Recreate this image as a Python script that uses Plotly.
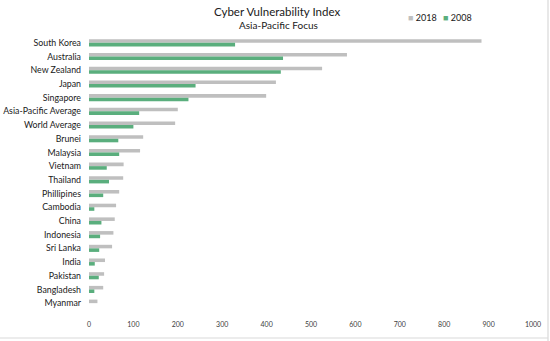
import plotly.graph_objects as go

countries = ["South Korea", "Australia", "New Zealand", "Japan", "Singapore",
             "Asia-Pacific Average", "World Average", "Brunei", "Malaysia", "Vietnam",
             "Thailand", "Phillipines", "Cambodia", "China", "Indonesia", "Sri Lanka",
             "India", "Pakistan", "Bangladesh", "Myanmar"]
v2018 = [884, 581, 525, 421, 399, 200, 194, 122, 115, 78,
         77, 68, 61, 58, 55, 52, 36, 34, 32, 19]
v2008 = [329, 437, 432, 240, 224, 113, 100, 66, 68, 40,
         45, 32, 12, 28, 25, 23, 13, 22, 12, 0]
x_ticks = [0, 100, 200, 300, 400, 500, 600, 700, 800, 900, 1000]
series_names = ["2018", "2008"]
series_colors = ["#BFBFBF", "#5AAE7D"]

font = "Lato, 'Open Sans', sans-serif"
W, H = 550, 341
L, R, T, B = 89, 17, 36, 31

fig = go.Figure()
for name, vals, col in zip(series_names, [v2018, v2008], series_colors):
    fig.add_trace(go.Bar(y=countries, x=vals, name=name, orientation="h",
                         marker=dict(color=col, line=dict(width=0)), showlegend=False))

fig.update_layout(
    width=W, height=H,
    margin=dict(l=L, r=R, t=T, b=B, autoexpand=False),
    paper_bgcolor="white", plot_bgcolor="white",
    barmode="group", bargap=0.48, bargroupgap=0,
    font=dict(family=font, color="#404040"),
    showlegend=False,
)
fig.update_xaxes(range=[0, 1000], tickvals=x_ticks, showgrid=False, zeroline=False,
                 showline=False, tickfont=dict(size=7, color="#404040"), ticks="",
                 ticklabelstandoff=9, automargin=False)
fig.update_yaxes(autorange="reversed", showgrid=False, showline=False, ticks="",
                 tickfont=dict(size=8.8, color="#202020"), ticklabelstandoff=7,
                 automargin=False)

ph = H - T - B
pw = W - L - R
def yp(py):
    return (H - B - py) / ph
def xp(px):
    return (px - L) / pw

fig.add_annotation(text="Cyber Vulnerability Index", xref="paper", yref="paper",
                   x=xp(277), y=yp(11.5), showarrow=False, xanchor="center", yanchor="middle",
                   font=dict(size=11.5, color="#202020"))
fig.add_annotation(text="Asia-Pacific Focus", xref="paper", yref="paper",
                   x=xp(278), y=yp(25), showarrow=False, xanchor="center", yanchor="middle",
                   font=dict(size=10, color="#202020"))
# legend
fig.add_annotation(text=f"<span style='color:{series_colors[0]}'>■</span> {series_names[0]}",
                   xref="paper", yref="paper", x=xp(406), y=yp(17.5), showarrow=False,
                   xanchor="left", yanchor="middle", font=dict(size=9, color="#202020"))
fig.add_annotation(text=f"<span style='color:{series_colors[1]}'>■</span> {series_names[1]}",
                   xref="paper", yref="paper", x=xp(441), y=yp(17.5), showarrow=False,
                   xanchor="left", yanchor="middle", font=dict(size=9, color="#202020"))

# chart border (right & bottom visible)
fig.add_shape(type="line", xref="paper", yref="paper",
              x0=xp(548), x1=xp(548), y0=yp(341), y1=yp(0),
              line=dict(color="#D9D9D9", width=1.2))
fig.add_shape(type="line", xref="paper", yref="paper",
              x0=xp(0), x1=xp(548), y0=yp(338), y1=yp(338),
              line=dict(color="#D9D9D9", width=1.2))

fig.write_html("out.html")
